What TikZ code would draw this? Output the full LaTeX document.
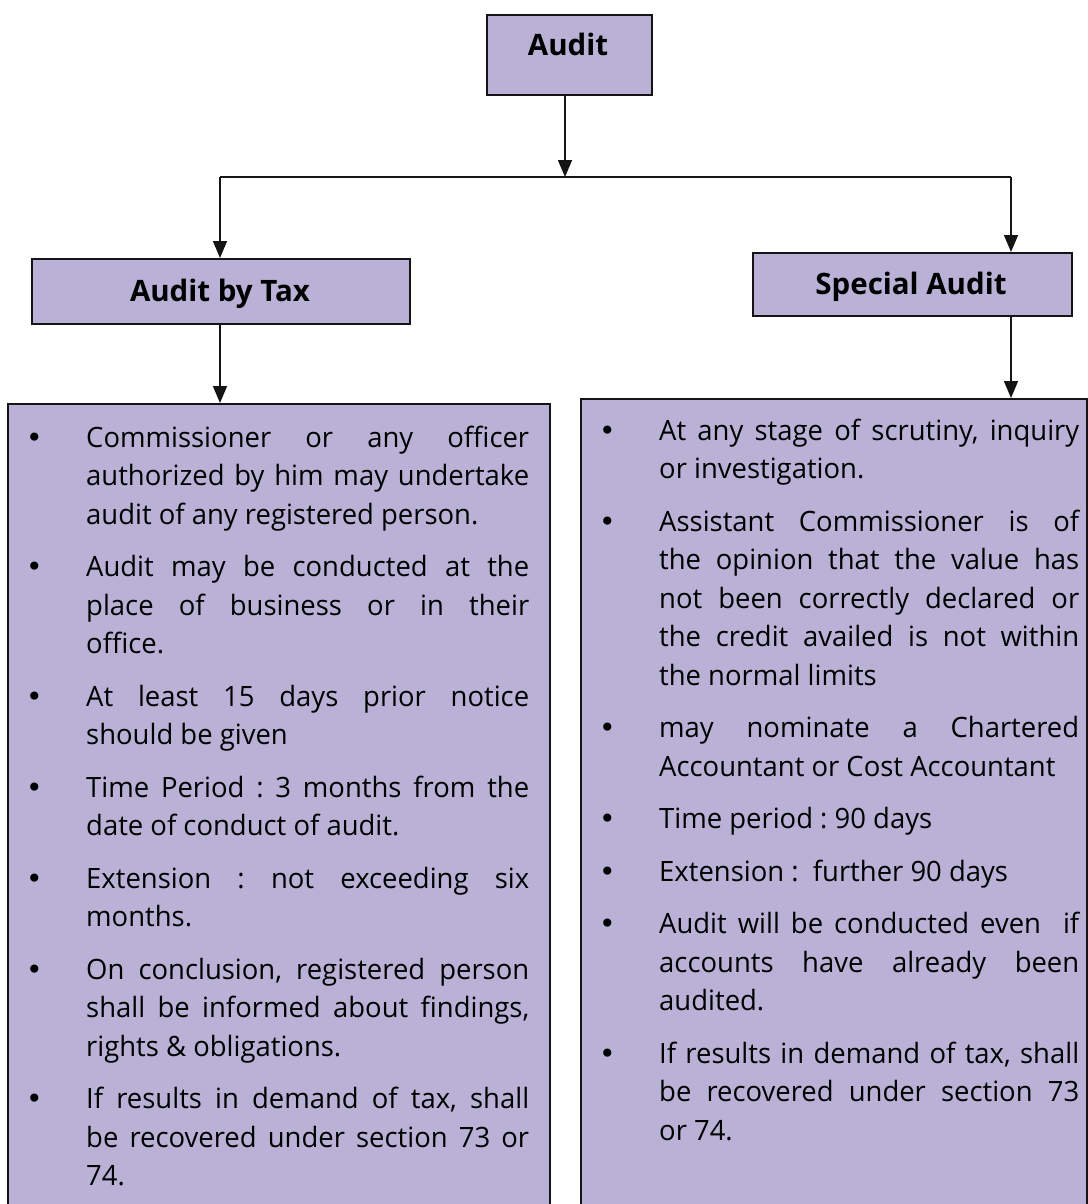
\documentclass[tikz,border=0pt]{standalone}
\usepackage{fontspec}
\setmainfont{Open Sans}[FakeStretch=0.98]
\newfontfamily\headfont{Open Sans}
\newfontfamily\dotfont{DejaVu Sans}
\usetikzlibrary{arrows.meta}

\definecolor{boxfill}{RGB}{186,178,214}
\definecolor{edgec}{RGB}{20,20,20}

% bullet hung to the left of the text column, and the start of a new point
\newcommand{\bul}{\llap{\hbox to 60pt{{\dotfont\char"2022}\hfil}}}
\newcommand{\nxt}{\par\vspace{14pt}\noindent\bul}

\begin{document}
\begin{tikzpicture}[x=1pt,y=-1pt,
  box/.style={draw=edgec, line width=1.6pt, fill=boxfill, inner sep=0pt, anchor=north west},
  head/.style={font=\headfont\bfseries\fontsize{29.5}{34}\selectfont, inner sep=0pt, anchor=base},
  conn/.style={draw=edgec, line width=1.6pt},
  arr/.style={conn, -{Triangle[width=14pt,length=17pt]}},
  itemtext/.style={anchor=base west, inner sep=0pt, text width=#1, align=justify,
    font=\fontsize{28}{38.5}\selectfont,
    execute at begin node={\parindent0pt\parskip0pt\frenchspacing
      \hyphenpenalty10000\exhyphenpenalty10000\tolerance9999}}]

\useasboundingbox (0,0) rectangle (1087,1204);

% boxes
\node[box, minimum width=165pt, minimum height=80pt] (audit) at (486,14) {};
\node[box, minimum width=378pt, minimum height=65pt] (tax) at (31,258) {};
\node[box, minimum width=319pt, minimum height=63pt] (special) at (752,252) {};
\node[box, minimum width=542pt, minimum height=820pt] (taxlist) at (7,403) {};
\node[box, minimum width=506pt, minimum height=820pt] (speclist) at (580,398) {};

% headings
\node[head] (auditT) at (568,56) {Audit};
\node[head] (taxT) at (220,301) {Audit by Tax};
\node[head] (specialT) at (911,294) {Special Audit};

% connectors
\coordinate (j) at (565,177);
\coordinate (jl) at (220,177);
\coordinate (jr) at (1011,177);
\draw[arr] (audit.south -| j) -- (j);
\draw[conn] (jl) -- (jr);
\draw[arr] (jl) -- (tax.north -| jl);
\draw[arr] (jr) -- (special.north -| jr);
\draw[arr] (tax.south -| jl) -- (taxlist.north -| jl);
\draw[arr] (special.south -| jr) -- (speclist.north -| jr);

% points under "Audit by Tax"
\node[itemtext=443pt] (taxpts) at (86,447) {%
\bul Commissioner or any officer\linebreak authorized by him may undertake\linebreak audit of any registered person.
\nxt Audit may be conducted at the\linebreak place of business or in their\linebreak office.
\nxt At least 15 days prior notice\linebreak should be given
\nxt Time Period : 3 months from the\linebreak date of conduct of audit.
\nxt Extension : not exceeding six\linebreak months.
\nxt On conclusion, registered person\linebreak shall be informed about findings,\linebreak rights \& obligations.
\nxt If results in demand of tax, shall\linebreak be recovered under section 73 or\linebreak 74.};

% points under "Special Audit"
\node[itemtext=420pt] (specpts) at (659,440) {%
\bul At any stage of scrutiny, inquiry\linebreak or investigation.
\nxt Assistant Commissioner is of\linebreak the opinion that the value has\linebreak not been correctly declared or\linebreak the credit availed is not within\linebreak the normal limits
\nxt may nominate a Chartered\linebreak Accountant or Cost Accountant
\nxt Time period : 90 days
\nxt Extension : \ further 90 days
\nxt Audit will be conducted even \ if\linebreak accounts have already been\linebreak audited.
\nxt If results in demand of tax, shall\linebreak be recovered under section 73\linebreak or 74.};
\end{tikzpicture}
\end{document}
